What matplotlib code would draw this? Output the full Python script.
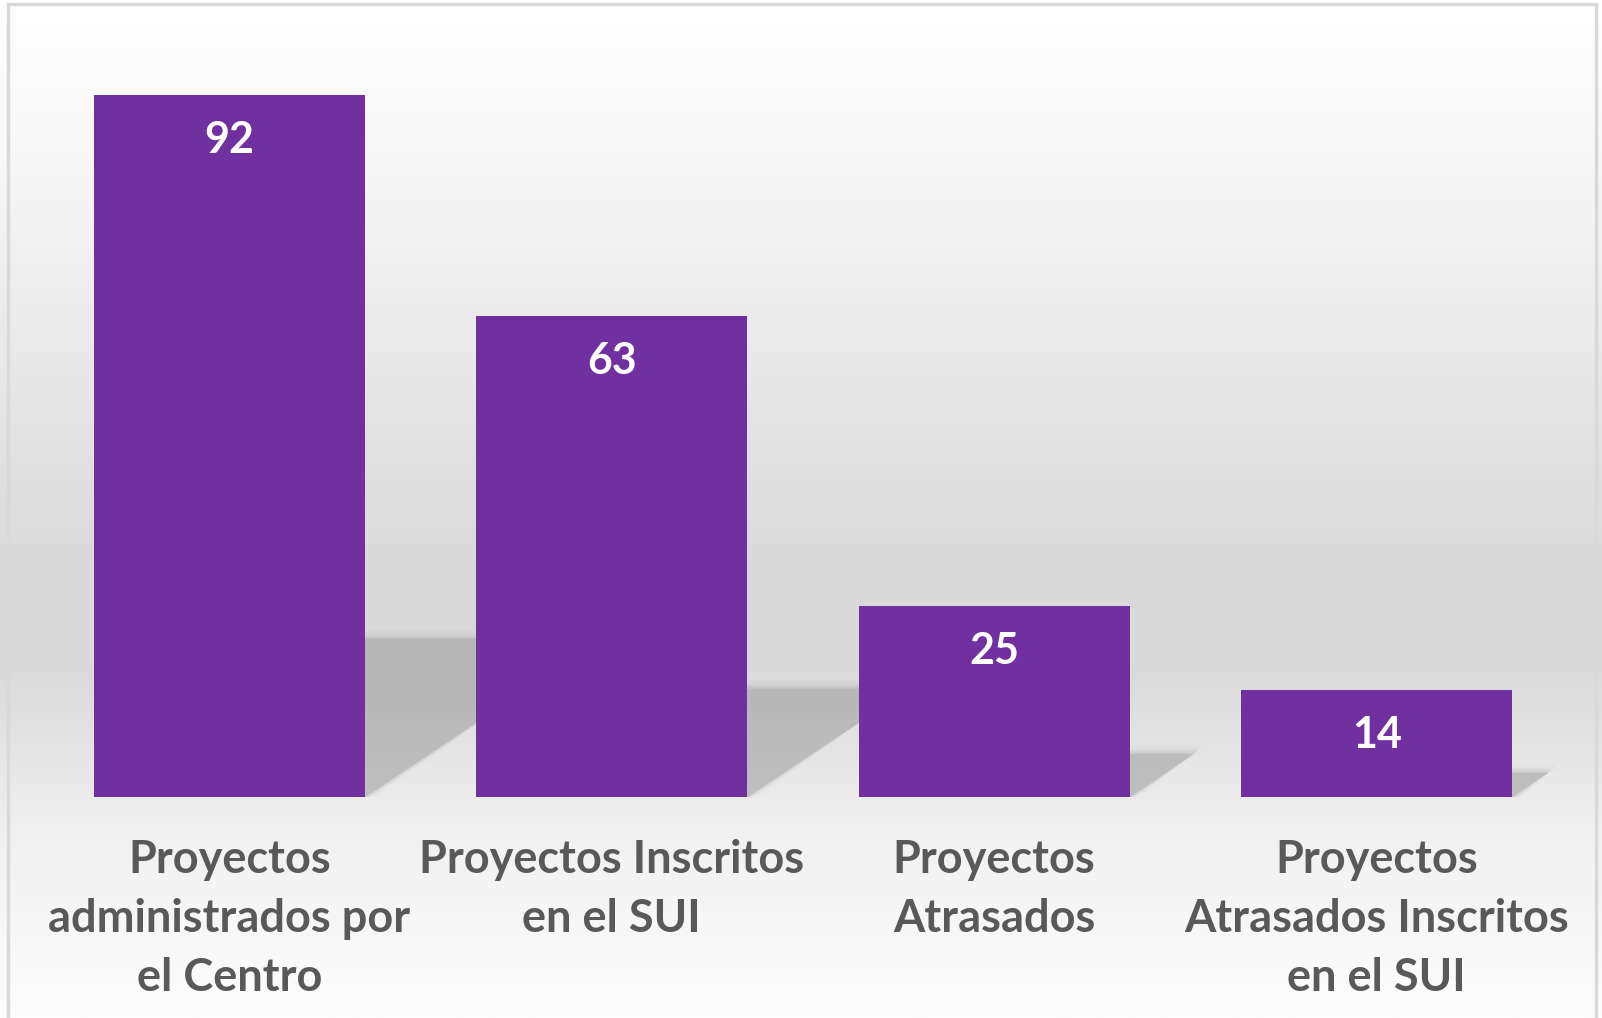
import numpy as np
import matplotlib
matplotlib.use("Agg")
import matplotlib.pyplot as plt
from matplotlib.patches import Rectangle, Polygon
from matplotlib.colors import LinearSegmentedColormap

# data
categories = [
    "Proyectos\nadministrados por\nel Centro",
    "Proyectos Inscritos\nen el SUI",
    "Proyectos\nAtrasados",
    "Proyectos\nAtrasados Inscritos\nen el SUI",
]
values = [92, 63, 25, 14]

bar_color = "#7030A0"
text_gray = "#595959"
font = "Lato"

fig = plt.figure(figsize=(16.02, 10.18), dpi=100)

# background gradient (white -> gray -> white)
bg = fig.add_axes([0, 0, 1, 1], zorder=-5)
bg.set_axis_off()
stops = [(0.0, "#ffffff"), (0.15, "#f8f8f8"), (0.35, "#e9e9e9"),
         (0.55, "#dadada"), (0.65, "#d9d9d9"), (0.76, "#e8e8e8"),
         (0.82, "#f1f1f1"), (1.0, "#fdfdfd")]
cmap = LinearSegmentedColormap.from_list("bg", stops)
grad = np.linspace(0, 1, 512).reshape(-1, 1)
bg.imshow(grad, aspect="auto", cmap=cmap, extent=[0, 1, 0, 1], origin="upper")
bg.set_xlim(0, 1)
bg.set_ylim(0, 1)
# chart border
bg.add_patch(Rectangle((8 / 1602, -0.01), 1588 / 1602, 1 - 4 / 1018 + 0.01,
                       fill=False, edgecolor="#d9d9d9", linewidth=2.5))

ax = fig.add_axes([38 / 1602, 221 / 1018, 1530 / 1602, 763 / 1018])
ax.set_facecolor("none")
x = np.arange(len(values))
width = 0.709

ax.set_xlim(-0.5, len(values) - 0.5)
ax.set_ylim(0, 100)

# perspective shadows behind bars
for xi, v in zip(x, values):
    hs = v * 0.225
    skew = hs * 1.5 * (763 / 100) / (1530 / 4)
    for k, a in [(1.6, 0.05), (1.0, 0.08), (0.6, 0.12), (0.25, 0.18), (0.0, 0.25)]:
        dy = k * 0.7
        dx = k * 0.015
        poly = Polygon([
            (xi - width / 2, 0),
            (xi + width / 2 + dx, 0),
            (xi + width / 2 + skew + dx, hs + dy),
            (xi - width / 2 + skew, hs + dy),
        ], closed=True, facecolor="#9a9a9a", edgecolor="none", alpha=a, zorder=1)
        ax.add_patch(poly)

ax.bar(x, values, width=width, color=bar_color, zorder=3)

for xi, v in zip(x, values):
    ax.text(xi, v - 5.9, str(v), ha="center", va="center", color="white",
            fontsize=31, fontweight="bold", family=font, zorder=4)

ax.set_xticks(x)
ax.set_xticklabels(categories, fontsize=32.5, fontweight="bold", family=font,
                   color=text_gray, linespacing=1.5)
ax.tick_params(axis="x", length=0, pad=30)
ax.set_yticks([])
for s in ax.spines.values():
    s.set_visible(False)

fig.savefig("out.png", dpi=100)
